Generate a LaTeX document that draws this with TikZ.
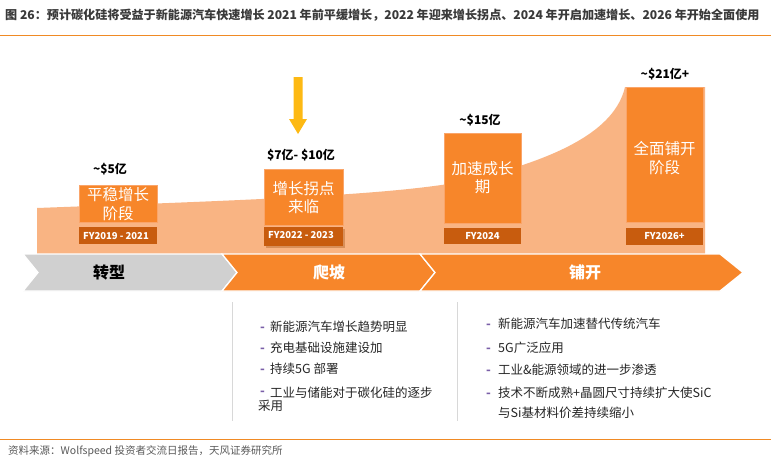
\documentclass[tikz,border=0pt]{standalone}
\usepackage{fontspec}
\setmainfont{Noto Sans CJK SC}
\definecolor{mainorange}{HTML}{F7862A}
\definecolor{lightorange}{HTML}{F9B483}
\definecolor{darkorange}{HTML}{C85C0E}
\definecolor{boxedge}{HTML}{FAA56A}
\definecolor{chevgray}{HTML}{D0D0D0}
\definecolor{arrowyellow}{HTML}{FDB913}
\definecolor{dashpurple}{HTML}{7A5FA8}
\definecolor{titlegray}{HTML}{3A3A3A}
\definecolor{linegray}{HTML}{D8D8D8}
\definecolor{rulecolor}{HTML}{F08A24}
\definecolor{sourcegray}{HTML}{5A5A5A}
\tikzset{
  stagebox/.style={fill=mainorange, draw=boxedge, line width=0.8pt},
  fystrip/.style={fill=darkorange},
  boxtext/.style={text=white, font=\fontsize{15.5}{18.5}\selectfont, align=center, inner sep=0pt},
  valuetext/.style={font=\bfseries\fontsize{12}{14}\selectfont, text=black, inner sep=0pt},
  fytext/.style={font=\bfseries\fontsize{9.5}{11}\selectfont, text=white, inner sep=0pt},
  chev/.style={draw=white, line width=1.3pt, line join=miter},
  chevtext/.style={font=\bfseries\fontsize{16}{18}\selectfont, inner sep=0pt},
  bullettext/.style={font=\fontsize{12.5}{15}\selectfont, text=black!85, anchor=west, inner sep=0pt},
  bulletdash/.style={font=\bfseries\fontsize{12.5}{15}\selectfont, text=dashpurple, anchor=west, inner sep=0pt},
  sepline/.style={draw=linegray, line width=1pt}
}
\begin{document}
\begin{tikzpicture}[x=1pt,y=-1pt]
\useasboundingbox (0,0) rectangle (771,464);
\fill[white] (0,0) rectangle (771,464);

% title
\node[anchor=west, inner sep=0pt, text=titlegray, font=\bfseries\fontsize{12.1}{13.5}\selectfont] (title) at (5,15)
  {图 26：预计碳化硅将受益于新能源汽车快速增长 2021 年前平缓增长，2022 年迎来增长拐点、2024 年开启加速增长、2026 年开始全面使用};
\coordinate (rulel) at (0,35);
\coordinate (ruler) at (771,35);
\draw[rulecolor, line width=1pt] (rulel) -- (ruler);

% light growth area
\fill[lightorange] (37,254) -- (37,208)
  .. controls (250,200) and (400,195) .. (470,180)
  .. controls (560,158) and (615,130) .. (625,87)
  -- (705,87) -- (705,254) -- cycle;

% chevrons
\path[chev, fill=chevgray] (23,254) -- (222,254) -- (237,272.5) -- (222,291) -- (23,291) -- (38,272.5) -- cycle;
\path[chev, fill=mainorange] (222,254) -- (420,254) -- (435,272.5) -- (420,291) -- (222,291) -- (237,272.5) -- cycle;
\path[chev, fill=mainorange] (420,254) -- (720,254) -- (743,272.5) -- (720,291) -- (420,291) -- (435,272.5) -- cycle;
\node[chevtext, text=black] (ch1) at (109,272) {转型};
\node[chevtext, text=white] (ch2) at (329,272) {爬坡};
\node[chevtext, text=white] (ch3) at (585,272) {铺开};

% stage boxes
\draw[stagebox] (79,185) rectangle (157,222);
\fill[fystrip] (79,227) rectangle (157,244);
\node[boxtext] (b1) at (118,204) {平稳增长\\阶段};
\node[fytext] (fy1) at (116,236) {FY2019 - 2021};
\node[valuetext] (v1) at (110,169) {\textasciitilde\$5亿};

\draw[stagebox] (264,169) rectangle (343,225);
\fill[darkorange!80!black, opacity=0.35] (266,229) rectangle (345,248);
\fill[fystrip] (264,227) rectangle (343,246);
\node[boxtext] (b2) at (303.5,197.5) {增长拐点\\来临};
\node[fytext] (fy2) at (301,235) {FY2022 - 2023};
\node[valuetext] (v2) at (301,155) {\$7亿- \$10亿};

\draw[stagebox] (444,133) rectangle (521,223);
\fill[fystrip] (444,228) rectangle (521,244);
\node[boxtext] (b3) at (482.5,177.5) {加速成长\\期};
\node[fytext] (fy3) at (482.5,236) {FY2024};
\node[valuetext] (v3) at (480,120) {\textasciitilde\$15亿};

\draw[stagebox] (626,87) rectangle (703,222);
\fill[fystrip] (626,228) rectangle (703,245);
\node[boxtext] (b4) at (664.5,158) {全面铺开\\阶段};
\node[fytext] (fy4) at (664.5,236.5) {FY2026+};
\node[valuetext] (v4) at (665,74) {\textasciitilde\$21亿+};

% yellow arrow
\fill[arrowyellow] (293.5,77) -- (302.5,77) -- (302.5,119) -- (307,119) -- (298,134) -- (289,119) -- (293.5,119) -- cycle;

% separator lines
\coordinate (s1t) at (232,302);
\coordinate (s1b) at (232,421);
\coordinate (s2t) at (457,302);
\coordinate (s2b) at (457,421);
\draw[sepline] (s1t) -- (s1b);
\draw[sepline] (s2t) -- (s2b);

% left bullets
\node[bulletdash] (ld1) at (260,329) {-};
\node[bullettext] (l1) at (270,327) {新能源汽车增长趋势明显};
\node[bulletdash] (ld2) at (260,350) {-};
\node[bullettext] (l2) at (270,348) {充电基础设施建设加};
\node[bulletdash] (ld3) at (260,371) {-};
\node[bullettext] (l3) at (270,369) {持续5G 部署};
\node[bulletdash] (ld4) at (260,393) {-};
\node[bullettext] (l4) at (270,393) {工业与储能对于碳化硅的逐步};
\node[bullettext] (l5) at (258,406) {采用};

% right bullets
\node[bulletdash] (rd1) at (486,326) {-};
\node[bullettext] (r1) at (498,324) {新能源汽车加速替代传统汽车};
\node[bulletdash] (rd2) at (486,350) {-};
\node[bullettext] (r2) at (498,348) {5G广泛应用};
\node[bulletdash] (rd3) at (486,372) {-};
\node[bullettext] (r3) at (498,370) {工业\&能源领域的进一步渗透};
\node[bulletdash] (rd4) at (486,395) {-};
\node[bullettext] (r4) at (498,393) {技术不断成熟+晶圆尺寸持续扩大使SiC};
\node[bullettext] (r5) at (498,413) {与Si基材料价差持续缩小};

% footer
\coordinate (fl) at (0,439);
\coordinate (fr) at (771,439);
\draw[rulecolor, line width=1pt] (fl) -- (fr);
\node[anchor=west, inner sep=0pt, text=sourcegray, font=\fontsize{10.5}{12}\selectfont] (source) at (8,451)
  {资料来源：Wolfspeed 投资者交流日报告，天风证券研究所};
\end{tikzpicture}
\end{document}
